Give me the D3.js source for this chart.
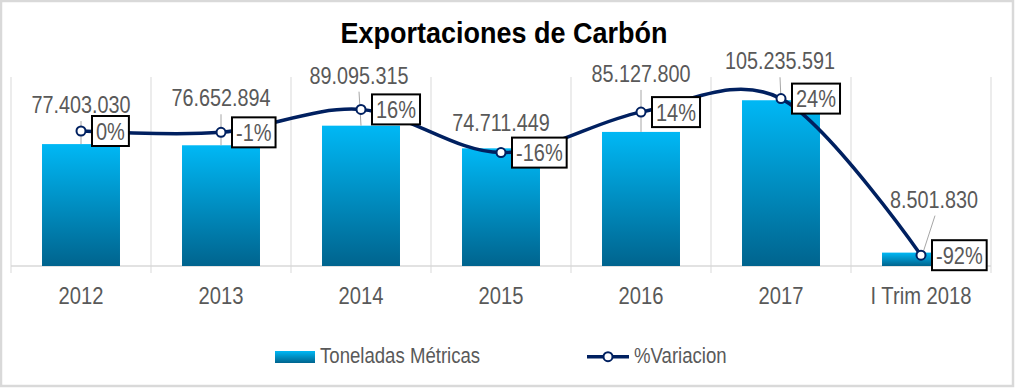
<!DOCTYPE html>
<html>
<head>
<meta charset="utf-8">
<script src="https://cdn.jsdelivr.net/npm/d3@7"></script>
<style>
  html, body { margin: 0; padding: 0; background: #fff; }
  svg { display: block; }
  text { font-family: "Liberation Sans", Arial, sans-serif; }
</style>
</head>
<body>
<svg id="chart" width="1015" height="388"></svg>
<script>
// ---- data ----
const categories = ["2012", "2013", "2014", "2015", "2016", "2017", "I Trim 2018"];
const toneladas = [77403030, 76652894, 89095315, 74711449, 85127800, 105235591, 8501830];
const variacion = [0, -0.01, 0.16, -0.16, 0.14, 0.24, -0.92];
const seriesNames = ["Toneladas Métricas", "%Variacion"];
const titleText = "Exportaciones de Carbón";

// ---- layout (label placement, px) ----
const labelDy = [31, 39, 42, 17, 50, 31, 45];
const labelDx = [0, 0, -2, 0, 0, -1, 13];
const showLeader = [true, true, true, false, true, true, true];

const W = 1015, H = 388;
const plot = { left: 11, right: 991, top: 77, bottom: 266 };
const SY = 1.22; // vertical text stretch

const svg = d3.select("#chart");
const locale = d3.formatLocale({ decimal: ",", thousands: ".", grouping: [3], currency: ["", ""], minus: "-" });
const fmtNum = locale.format(",d");
const fmtPct = locale.format(".0%");

const x = d3.scaleBand().domain(categories).range([plot.left, plot.right]).padding(0);
const yBar = d3.scaleLinear().domain([0, 120000000]).range([plot.bottom, plot.top]);
const yPct = d3.scaleLinear().domain([-1, 0.4]).range([plot.bottom, plot.top]);
const cx = c => x(c) + x.bandwidth() / 2;
const barW = x.bandwidth() * 0.557;

const defs = svg.append("defs");
const grad = defs.append("linearGradient").attr("id", "barGrad")
  .attr("x1", 0).attr("y1", 0).attr("x2", 0).attr("y2", 1);
grad.append("stop").attr("offset", "0%").attr("stop-color", "#00B8F5");
grad.append("stop").attr("offset", "100%").attr("stop-color", "#00648E");

// background & border
svg.append("rect").attr("x", 1).attr("y", 1).attr("width", W - 3).attr("height", H - 3)
  .attr("fill", "#fff").attr("stroke", "#d9d9d9").attr("stroke-width", 2.5);

function stretchedText(g, tx, ty, str, opts) {
  const t = g.append("text")
    .attr("transform", `translate(${tx},${ty}) scale(${opts.sx || 1},${opts.sy || SY})`)
    .attr("text-anchor", opts.anchor || "middle")
    .attr("font-size", opts.size || 20)
    .attr("font-weight", opts.weight || "normal")
    .attr("fill", opts.fill || "#595959")
    .text(str);
  return t;
}

// title
stretchedText(svg, 504, 43, titleText, { size: 27, weight: "bold", fill: "#000", sy: 1.12 });

// gridlines at category boundaries
const bounds = categories.map(c => x(c)).concat([plot.right]);
svg.append("g").selectAll("line").data(bounds).join("line")
  .attr("x1", d => d).attr("x2", d => d)
  .attr("y1", plot.top).attr("y2", plot.bottom + 7)
  .attr("stroke", "#d9d9d9").attr("stroke-width", 1);
svg.append("line").attr("x1", plot.left).attr("x2", plot.right)
  .attr("y1", plot.bottom).attr("y2", plot.bottom)
  .attr("stroke", "#d9d9d9").attr("stroke-width", 1.5);

// bars
svg.append("g").selectAll("rect").data(categories).join("rect")
  .attr("x", (c) => cx(c) - barW / 2)
  .attr("width", barW)
  .attr("y", (c, i) => yBar(toneladas[i]))
  .attr("height", (c, i) => plot.bottom - yBar(toneladas[i]))
  .attr("fill", "url(#barGrad)");

// leader lines
const gLead = svg.append("g");
categories.forEach((c, i) => {
  if (!showLeader[i]) return;
  const bx = cx(c), by = yBar(toneladas[i]);
  const lx = bx + labelDx[i], ly = by - labelDy[i] + 8;
  gLead.append("line").attr("x1", lx + (labelDx[i] > 5 ? 1 : 0)).attr("y1", ly)
    .attr("x2", bx + (labelDx[i] > 5 ? 2 : 0)).attr("y2", by)
    .attr("stroke", "#a6a6a6").attr("stroke-width", 1);
});

// line series
const pts = categories.map((c, i) => [cx(c), yPct(variacion[i])]);
svg.append("path")
  .attr("d", d3.line().curve(d3.curveCardinal.tension(0))(pts))
  .attr("fill", "none").attr("stroke", "#002060").attr("stroke-width", 3.5);
svg.append("g").selectAll("circle").data(pts).join("circle")
  .attr("cx", d => d[0]).attr("cy", d => d[1]).attr("r", 4.5)
  .attr("fill", "#fff").attr("stroke", "#002060").attr("stroke-width", 2);

// bar value labels
const gLab = svg.append("g");
categories.forEach((c, i) => {
  stretchedText(gLab, cx(c) + labelDx[i], yBar(toneladas[i]) - labelDy[i], fmtNum(toneladas[i]), { size: 19.8 });
});

// pct labels with boxes
const gPct = svg.append("g");
pts.forEach((p, i) => {
  const g = gPct.append("g");
  const left = p[0] + 11;
  const t = stretchedText(g, 0, 0, fmtPct(variacion[i]), { size: 20, anchor: "start" });
  const tw = t.node().getComputedTextLength();
  const bw = tw + 8, bh = 30;
  g.insert("rect", "text").attr("x", left).attr("y", p[1] - bh / 2)
    .attr("width", bw).attr("height", bh)
    .attr("fill", "#fff").attr("stroke", "#000").attr("stroke-width", 2);
  t.attr("transform", `translate(${left + 4},${p[1] + 8.5}) scale(1,${SY})`);
});

// category labels
const gAx = svg.append("g");
categories.forEach(c => {
  stretchedText(gAx, cx(c), 304, c, { size: 20.2 });
});

// legend
const lg = svg.append("g");
lg.append("rect").attr("x", 275).attr("y", 351).attr("width", 40).attr("height", 12).attr("fill", "url(#barGrad)");
stretchedText(lg, 320, 363.3, seriesNames[0], { size: 18.6, anchor: "start", sy: 1.2 });
lg.append("line").attr("x1", 587).attr("x2", 629).attr("y1", 356.7).attr("y2", 356.7)
  .attr("stroke", "#002060").attr("stroke-width", 3.5);
lg.append("circle").attr("cx", 608).attr("cy", 356.7).attr("r", 4.5)
  .attr("fill", "#fff").attr("stroke", "#002060").attr("stroke-width", 2);
stretchedText(lg, 634, 363.3, seriesNames[1], { size: 18.6, anchor: "start", sy: 1.2 });
</script>
</body>
</html>
